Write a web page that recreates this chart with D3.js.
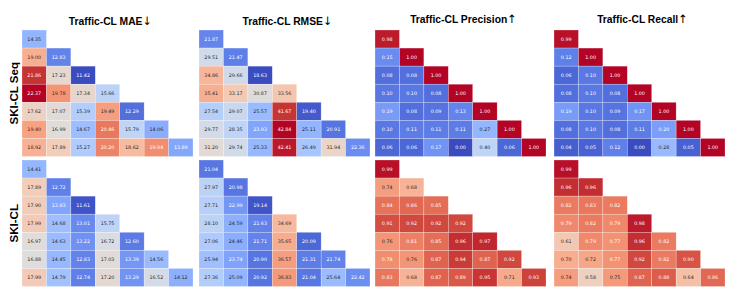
<!DOCTYPE html>
<html><head><meta charset="utf-8">
<script src="https://cdn.jsdelivr.net/npm/d3@7"></script>
<style>
html,body{margin:0;padding:0;background:#fff;}
svg{display:block;}
</style>
</head><body>
<svg id="chart" width="731" height="301"></svg>
<script>
const titles = ["Traffic-CL MAE", "Traffic-CL RMSE", "Traffic-CL Precision", "Traffic-CL Recall"];
const titleArrows = ["\u2193", "\u2193", "\u2191", "\u2191"];
const rowLabels = ["SKI-CL Seq", "SKI-CL"];

const maeSeq = [
  [14.35],
  [19.00, 12.83],
  [21.86, 17.23, 11.42],
  [22.37, 19.78, 17.34, 15.66],
  [17.62, 17.07, 15.39, 19.49, 12.29],
  [19.40, 16.99, 14.67, 20.46, 15.79, 14.06],
  [18.92, 17.89, 15.27, 20.20, 18.62, 19.94, 13.89]
];
const maeCl = [
  [14.41],
  [17.89, 12.72],
  [17.90, 13.83, 11.61],
  [17.99, 14.68, 13.01, 15.75],
  [16.97, 14.63, 13.22, 16.72, 12.60],
  [16.88, 14.45, 12.83, 17.03, 13.39, 14.56],
  [17.99, 14.79, 12.74, 17.20, 13.29, 16.52, 14.12]
];
const rmseSeq = [
  [21.87],
  [29.51, 21.47],
  [34.86, 29.66, 18.63],
  [35.41, 33.17, 30.87, 33.56],
  [27.54, 29.07, 25.57, 41.67, 19.40],
  [29.77, 28.35, 23.93, 42.84, 25.11, 20.91],
  [31.20, 29.74, 25.33, 42.41, 26.49, 31.94, 22.36]
];
const rmseCl = [
  [21.04],
  [27.97, 20.98],
  [27.71, 22.99, 19.14],
  [28.10, 24.59, 21.63, 34.69],
  [27.06, 24.46, 21.71, 35.65, 20.09],
  [25.94, 23.74, 20.90, 36.57, 21.31, 21.74],
  [27.36, 25.09, 20.92, 36.83, 21.04, 25.64, 22.42]
];
const precSeq = [
  [0.98],
  [0.15, 1.00],
  [0.08, 0.08, 1.00],
  [0.10, 0.10, 0.08, 1.00],
  [0.19, 0.08, 0.09, 0.13, 1.00],
  [0.10, 0.11, 0.11, 0.11, 0.27, 1.00],
  [0.06, 0.06, 0.17, 0.00, 0.40, 0.06, 1.00]
];
const precCl = [
  [0.99],
  [0.74, 0.68],
  [0.84, 0.86, 0.85],
  [0.91, 0.92, 0.92, 0.92],
  [0.76, 0.81, 0.85, 0.96, 0.97],
  [0.78, 0.76, 0.87, 0.94, 0.87, 0.92],
  [0.83, 0.68, 0.87, 0.89, 0.95, 0.71, 0.93]
];
const recSeq = [
  [0.99],
  [0.12, 1.00],
  [0.06, 0.10, 1.00],
  [0.08, 0.10, 0.08, 1.00],
  [0.19, 0.10, 0.09, 0.17, 1.00],
  [0.08, 0.10, 0.08, 0.11, 0.20, 1.00],
  [0.04, 0.05, 0.12, 0.00, 0.28, 0.05, 1.00]
];
const recCl = [
  [0.99],
  [0.96, 0.96],
  [0.82, 0.83, 0.82],
  [0.79, 0.82, 0.79, 0.98],
  [0.61, 0.79, 0.77, 0.96, 0.82],
  [0.70, 0.72, 0.77, 0.92, 0.82, 0.90],
  [0.74, 0.58, 0.75, 0.87, 0.88, 0.64, 0.86]
];

// Moreland cool-warm (matplotlib "coolwarm") control points
const cwStops = [
 [59,76,192],[68,90,204],[77,104,215],[87,117,225],[98,130,234],[108,142,241],[119,154,247],[130,165,251],
 [141,176,254],[152,185,255],[163,194,255],[174,201,253],[184,208,249],[194,213,244],[204,217,238],[213,219,230],
 [221,221,221],[229,216,209],[236,211,197],[241,204,185],[245,196,173],[247,187,160],[247,177,148],[247,166,135],
 [244,154,123],[241,141,111],[236,127,99],[229,112,88],[222,96,77],[213,80,66],[203,62,56],[192,40,47],[180,4,38]
];
const coolwarm = d3.scaleLinear()
  .domain(cwStops.map((_, i) => i / (cwStops.length - 1)))
  .range(cwStops.map(c => d3.rgb(c[0], c[1], c[2])))
  .interpolate(d3.interpolateRgb)
  .clamp(true);

function luminance(c) {
  const f = v => { v /= 255; return v <= 0.03928 ? v / 12.92 : Math.pow((v + 0.055) / 1.055, 2.4); };
  const r = d3.rgb(c);
  return 0.2126 * f(r.r) + 0.7152 * f(r.g) + 0.0722 * f(r.b);
}

const panels = [
  {ti: 0, data: [maeSeq, maeCl], x0: 22, ty: 25},
  {ti: 1, data: [rmseSeq, rmseCl], x0: 199, ty: 25},
  {ti: 2, data: [precSeq, precCl], x0: 375, ty: 23},
  {ti: 3, data: [recSeq, recCl], x0: 554, ty: 23}
];
const rowTops = [30, 160];
const panelW = 171, panelH = 126.5;
const n = 7;
const fmt = d3.format(".2f");

const svg = d3.select("#chart");

panels.forEach(p => {
  const all = p.data.flat(2);
  const norm = d3.scaleLinear().domain(d3.extent(all)).range([0, 1]);
  const x = d3.scaleBand().domain(d3.range(n)).range([p.x0, p.x0 + panelW]);
  const g = svg.append("g");
  const t = g.append("text")
    .attr("x", p.x0 + panelW / 2 + 3)
    .attr("y", p.ty)
    .attr("text-anchor", "middle")
    .attr("font-family", "Liberation Sans, Arial, sans-serif")
    .attr("font-weight", "bold")
    .attr("font-size", 10.3)
    .attr("fill", "#000");
  t.append("tspan").text(titles[p.ti]);
  t.append("tspan")
    .attr("font-family", "DejaVu Sans, sans-serif")
    .attr("font-weight", "normal")
    .attr("font-size", 11.5)
    .text(titleArrows[p.ti]);
  p.data.forEach((mat, ri) => {
    const y = d3.scaleBand().domain(d3.range(n)).range([rowTops[ri], rowTops[ri] + panelH]);
    const cells = [];
    mat.forEach((row, i) => row.forEach((v, j) => cells.push({i, j, v})));
    const cg = g.append("g");
    cg.selectAll("rect").data(cells).join("rect")
      .attr("x", d => x(d.j))
      .attr("y", d => y(d.i))
      .attr("width", x.bandwidth())
      .attr("height", y.bandwidth())
      .attr("fill", d => coolwarm(norm(d.v)))
      .attr("stroke", "rgba(255,255,255,0.5)")
      .attr("stroke-width", 0.5);
    cg.selectAll("text").data(cells).join("text")
      .attr("x", d => x(d.j) + x.bandwidth() / 2)
      .attr("y", d => y(d.i) + y.bandwidth() / 2)
      .attr("dy", "0.35em")
      .attr("text-anchor", "middle")
      .attr("font-family", "DejaVu Sans, sans-serif")
      .attr("font-size", 4.8)
      .attr("fill", d => luminance(coolwarm(norm(d.v))) > 0.408 ? "#262626" : "#ffffff")
      .text(d => fmt(d.v));
  });
});

rowLabels.forEach((lab, ri) => {
  const cy = rowTops[ri] + panelH / 2;
  svg.append("text")
    .attr("transform", `translate(18,${cy}) rotate(-90)`)
    .attr("text-anchor", "middle")
    .attr("font-family", "Liberation Sans, Arial, sans-serif")
    .attr("font-weight", "bold")
    .attr("font-size", 11.5)
    .attr("fill", "#000")
    .text(lab);
});
</script>
</body></html>
